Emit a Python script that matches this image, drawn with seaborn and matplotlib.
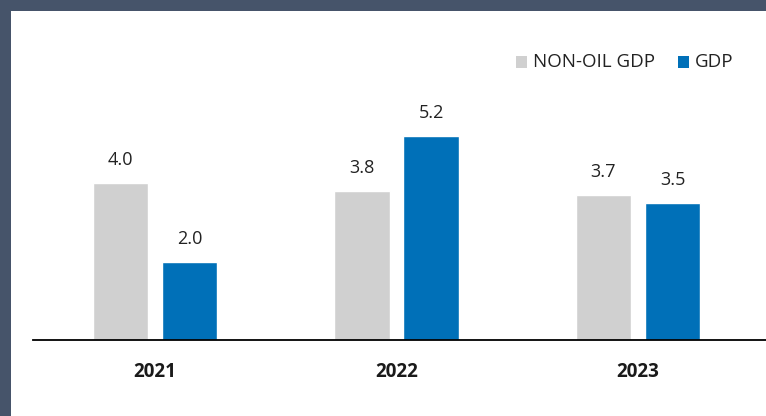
import matplotlib
matplotlib.use("Agg")
import matplotlib.pyplot as plt
import seaborn as sns
import pandas as pd
from matplotlib.patches import Rectangle

years = ["2021", "2022", "2023"]
series_names = ["NON-OIL GDP", "GDP"]
non_oil_gdp = [4.0, 3.8, 3.7]
gdp = [2.0, 5.2, 3.5]

colors = ["#D0D0D0", "#0070B8"]
frame_color = "#46546A"

df = pd.DataFrame({
    "year": years * 2,
    "series": [series_names[0]] * 3 + [series_names[1]] * 3,
    "value": non_oil_gdp + gdp,
})

sns.set_theme(style="white")
plt.rcParams["font.family"] = ["Open Sans", "DejaVu Sans"]

W, H = 766, 416
fig = plt.figure(figsize=(W / 100, H / 100), dpi=100)
fig.patch.set_facecolor("white")

# slate frame along the top and left edges
fig.patches.append(Rectangle((0, 1 - 11 / H), 1, 11 / H, transform=fig.transFigure,
                             facecolor=frame_color, edgecolor="none", zorder=0))
fig.patches.append(Rectangle((0, 0), 11 / W, 1, transform=fig.transFigure,
                             facecolor=frame_color, edgecolor="none", zorder=0))

ax = fig.add_axes([33 / W, (H - 340) / H, 1 - 33 / W, 300 / H])
ax.set_facecolor("none")

sns.barplot(data=df, x="year", y="value", hue="series", hue_order=series_names,
            palette=colors, width=0.572, gap=0.2, saturation=1, ax=ax,
            errorbar=None, legend=False)

ax.set_xlim(-0.505, 2.53)
ax.set_ylim(0, 300 / 39.2)

for container in ax.containers:
    ax.bar_label(container, fmt="%.1f", padding=10, fontsize=13, color="#222222")

ax.set_xlabel("")
ax.set_ylabel("")
ax.set_yticks([])
ax.tick_params(axis="x", length=0, pad=16)
for lbl in ax.get_xticklabels():
    lbl.set_fontweight("bold")
    lbl.set_fontsize(13.5)
    lbl.set_color("#1a1a1a")

for side in ["top", "right", "left"]:
    ax.spines[side].set_visible(False)
ax.spines["bottom"].set_color("black")
ax.spines["bottom"].set_linewidth(1.3)

# legend in the upper right
sq = 11
for name, c, x0 in zip(series_names, colors, [516, 678]):
    fig.patches.append(Rectangle((x0 / W, 1 - (62 + sq / 2) / H), sq / W, sq / H,
                                 transform=fig.transFigure, facecolor=c, edgecolor="none"))
    fig.text((x0 + 17) / W, 1 - 62 / H, name, ha="left", va="center",
             fontsize=13.5, color="#222222")

fig.savefig("out.png", dpi=100)
